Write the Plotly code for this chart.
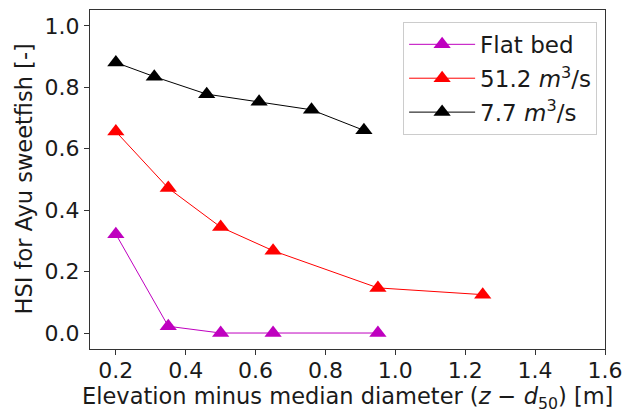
import plotly.graph_objects as go

flat_x = [0.2, 0.35, 0.5, 0.65, 0.95]
flat_y = [0.322, 0.022, 0.0, 0.0, 0.0]
q51_x = [0.2, 0.35, 0.5, 0.65, 0.95, 1.25]
q51_y = [0.656, 0.472, 0.345, 0.268, 0.147, 0.125]
q77_x = [0.2, 0.31, 0.46, 0.61, 0.76, 0.91]
q77_y = [0.881, 0.835, 0.778, 0.753, 0.727, 0.66]

x_ticks = [0.2, 0.4, 0.6, 0.8, 1.0, 1.2, 1.4, 1.6]
y_ticks = [0.0, 0.2, 0.4, 0.6, 0.8, 1.0]

FONT = "DejaVu Sans"
TICK_FS = 22
TITLE_FS = 22.5
LEG_FS = 23
TXT = "#1a1a1a"

fig = go.Figure()
series = [
    ("Flat bed", flat_x, flat_y, "#bf00bf"),
    ("51.2 <i>m</i><sup>3</sup>/s", q51_x, q51_y, "#ff0000"),
    ("7.7 <i>m</i><sup>3</sup>/s", q77_x, q77_y, "#000000"),
]
for i, (name, xs, ys, c) in enumerate(series):
    fig.add_trace(go.Scatter(
        x=xs, y=ys, name=name, mode="lines+markers", legendgroup=f"g{i}",
        line=dict(color=c, width=1),
        marker=dict(symbol="triangle-up", size=15, color=c),
    ))

axis_common = dict(
    showline=True, linecolor="#333333", linewidth=1.2, mirror=True,
    ticks="outside", ticklen=5, tickwidth=1.2, tickcolor="#333333",
    showgrid=False, zeroline=False,
    tickfont=dict(family=FONT, size=TICK_FS, color=TXT),
)

fig.update_layout(
    width=632, height=412,
    paper_bgcolor="white", plot_bgcolor="white",
    margin=dict(l=90, r=19, t=9, b=63),
    font=dict(family=FONT, size=TICK_FS, color=TXT),
    xaxis=dict(range=[0.126, 1.6], tickvals=x_ticks, ticklabelstandoff=-4,
               ticktext=[f"{v:.1f}" for v in x_ticks], **axis_common),
    yaxis=dict(range=[-0.052, 1.052], tickvals=y_ticks,
               ticktext=[f"{v:.1f}" for v in y_ticks], **axis_common),
    legend=dict(x=0.608, y=0.965, xanchor="left", yanchor="top",
                bgcolor="white", bordercolor="#cccccc", borderwidth=1,
                itemwidth=66, tracegroupgap=1,
                font=dict(family=FONT, size=LEG_FS, color=TXT)),
    showlegend=True,
    annotations=[
        dict(text="Elevation minus median diameter (<i>z</i> − <i>d</i><sub>50</sub>) [m]",
             xref="paper", yref="paper", x=0.5, y=0, xanchor="center",
             yanchor="middle", yshift=-49, showarrow=False,
             font=dict(family=FONT, size=TITLE_FS, color=TXT)),
        dict(text="HSI for Ayu sweetfish [-]", textangle=-90,
             xref="paper", yref="paper", x=0, y=0.5, xanchor="center",
             yanchor="middle", xshift=-67, showarrow=False,
             font=dict(family=FONT, size=TITLE_FS, color=TXT)),
    ],
)

fig.write_html("out.html", config={"displayModeBar": False},
               post_script="document.body.style.margin='0';document.body.style.overflow='hidden';")
